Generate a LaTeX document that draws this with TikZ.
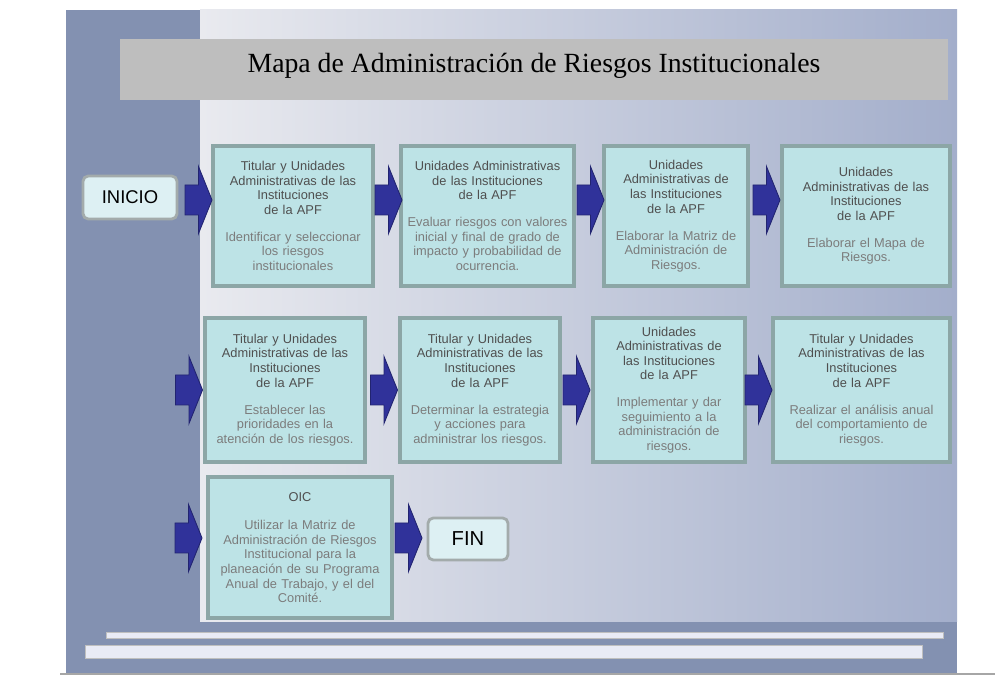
\documentclass[tikz,border=0pt]{standalone}
\usepackage{fontspec}
\setmainfont{Liberation Sans}
\newfontfamily\titlefont{Liberation Serif}
\definecolor{slideblue}{HTML}{8391B1}
\definecolor{panelleft}{HTML}{E9EAEF}
\definecolor{panelright}{HTML}{A3AECB}
\definecolor{titlegray}{HTML}{BEBEBE}
\definecolor{boxfill}{HTML}{BDE3E6}
\definecolor{boxedge}{HTML}{8CA6A6}
\definecolor{endfill}{HTML}{DDF0F3}
\definecolor{endedge}{HTML}{A3ABAB}
\definecolor{arrowblue}{HTML}{30329A}
\definecolor{arrowedge}{HTML}{222470}
\definecolor{hdrgray}{HTML}{4F4F4F}
\definecolor{descgray}{HTML}{7C7C7C}
\definecolor{barfill}{HTML}{E9EBF6}
\begin{document}
\begin{tikzpicture}[x=0.02cm,y=-0.02cm,
  stepbox/.style={draw=boxedge,line width=1.8pt,fill=boxfill,align=center,inner sep=0pt,
    text=hdrgray,font=\fontsize{7.3}{8.3}\selectfont},
  endbox/.style={draw=endedge,line width=1.6pt,fill=endfill,rounded corners=3pt,inner sep=0pt,
    font=\fontsize{10.5}{12}\selectfont},
  bluearrow/.pic={\filldraw[fill=arrowblue,draw=arrowedge,line width=0.5pt]
    (-13.5,-15) -- (0,-15) -- (0,-33.5) -- (13.5,0) -- (0,33.5) -- (0,15) -- (-13.5,15) -- cycle;}]
\useasboundingbox (0,0) rectangle (995,675);
% slide background
\fill[slideblue] (66,10) rectangle (957,673);
\shade[left color=panelleft,right color=panelright] (200,10) rectangle (957,622);
\fill[titlegray] (120,39) rectangle (948,100);
\node (title) at (534,66) {\titlefont\fontsize{15.8}{18}\selectfont Mapa de Administración de Riesgos Institucionales};
% bars at the bottom
\filldraw[fill=barfill,draw=gray!50] (106,632) rectangle (943,638);
\filldraw[fill=barfill,draw=gray!50] (85,645) rectangle (922,658);
\draw[gray!70,line width=1.2pt] (60,674) -- (995,674);
% first row
\node[endbox,minimum width=1.88cm,minimum height=0.86cm] (inicio) at (130,197.5) {INICIO};
\node[stepbox,minimum width=3.2cm,minimum height=2.8cm,text width=3.05cm] (b1) at (293,216)
  {Titular y Unidades\\Administrativas de las\\Instituciones\\de la APF\\[7pt]
   \color{descgray}Identificar y seleccionar\\los riesgos\\institucionales};
\node[stepbox,minimum width=3.46cm,minimum height=2.8cm,text width=3.35cm] (b2) at (487.5,216)
  {Unidades Administrativas\\de las Instituciones\\de la APF\\[7pt]
   \color{descgray}Evaluar riesgos con valores\\inicial y final de grado de\\impacto y probabilidad de\\ocurrencia.};
\node[stepbox,minimum width=2.88cm,minimum height=2.8cm,text width=2.75cm] (b3) at (676,216)
  {Unidades\\Administrativas de\\las Instituciones\\de la APF\\[7pt]
   \color{descgray}Elaborar la Matriz de\\Administración de\\Riesgos.};
\node[stepbox,minimum width=3.36cm,minimum height=2.8cm,text width=3.2cm] (b4) at (866,216)
  {Unidades\\Administrativas de las\\Instituciones\\de la APF\\[7pt]
   \color{descgray}Elaborar el Mapa de\\Riesgos.};
% arrows of first row
\pic at (198.5,200) {bluearrow};
\pic at (388.5,200) {bluearrow};
\pic at (590.5,200) {bluearrow};
\pic at (766.5,200) {bluearrow};
% second row
\node[stepbox,minimum width=3.2cm,minimum height=2.88cm,text width=3.05cm] (b5) at (285,390)
  {Titular y Unidades\\Administrativas de las\\Instituciones\\de la APF\\[7pt]
   \color{descgray}Establecer las\\prioridades en la\\atención de los riesgos.};
\node[stepbox,minimum width=3.2cm,minimum height=2.88cm,text width=3.05cm] (b6) at (480,390)
  {Titular y Unidades\\Administrativas de las\\Instituciones\\de la APF\\[7pt]
   \color{descgray}Determinar la estrategia\\y acciones para\\administrar los riesgos.};
\node[stepbox,minimum width=3.04cm,minimum height=2.88cm,text width=2.9cm] (b7) at (669,390)
  {Unidades\\Administrativas de\\las Instituciones\\de la APF\\[7pt]
   \color{descgray}Implementar y dar\\seguimiento a la\\administración de\\riesgos.};
\node[stepbox,minimum width=3.54cm,minimum height=2.88cm,text width=3.4cm] (b8) at (861.5,390)
  {Titular y Unidades\\Administrativas de las\\Instituciones\\de la APF\\[7pt]
   \color{descgray}Realizar el análisis anual\\del comportamiento de\\riesgos.};
% arrows of second row
\pic at (189,390) {bluearrow};
\pic at (384,390) {bluearrow};
\pic at (576.5,390) {bluearrow};
\pic at (758.5,390) {bluearrow};
% third row
\node[stepbox,minimum width=3.68cm,minimum height=2.82cm,text width=3.55cm] (b9) at (300,547.5)
  {OIC\\[8pt]
   \color{descgray}Utilizar la Matriz de\\Administración de Riesgos\\Institucional para la\\planeación de su Programa\\Anual de Trabajo, y el del\\Comité.};
\node[endbox,minimum width=1.6cm,minimum height=0.84cm,font=\fontsize{11.5}{13}\selectfont] (fin) at (468,539) {FIN};
% arrows of third row
\pic at (188.5,538) {bluearrow};
\pic at (408.5,538) {bluearrow};
\end{tikzpicture}
\end{document}
